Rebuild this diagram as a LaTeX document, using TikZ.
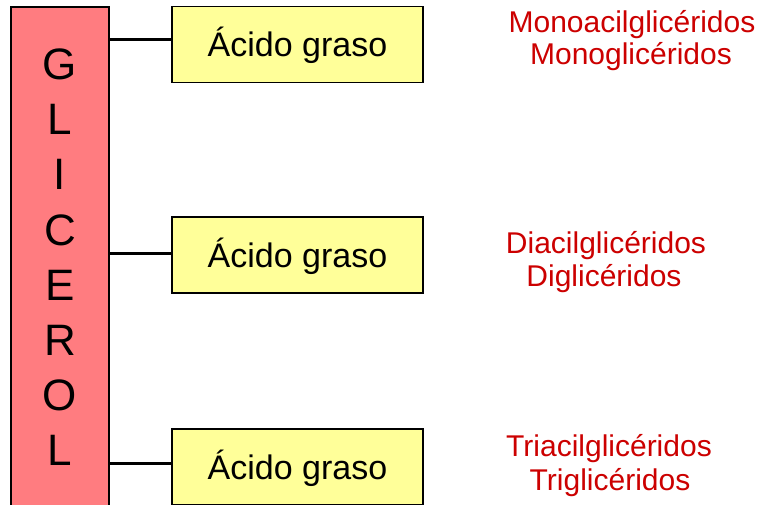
\documentclass[tikz,border=0pt]{standalone}
\usepackage{fontspec}
\setmainfont{Liberation Sans}
\definecolor{glyc}{HTML}{FF7C80}
\definecolor{acid}{HTML}{FFFF99}
\definecolor{lab}{HTML}{CC0000}
\tikzset{
  x=1pt,y=1pt,
  glycbox/.style={draw=black, line width=1.5pt, fill=glyc, minimum width=98pt, minimum height=504pt, inner sep=0pt},
  letter/.style={anchor=base, font=\fontsize{44}{44}\selectfont, inner sep=0pt},
  acidbox/.style={draw=black, line width=1.5pt, fill=acid, minimum width=251pt, minimum height=76pt, inner sep=0pt,
    font=\fontsize{34}{34}\selectfont, text height=24pt, text depth=0pt},
  conn/.style={line width=3pt},
  redtext/.style={anchor=base, text=lab, font=\fontsize{30}{30}\selectfont, inner sep=0pt}
}
\begin{document}
\begin{tikzpicture}
\useasboundingbox (0,0) rectangle (762,504);
\fill[white] (0,0) rectangle (762,504);
\node[glycbox] (glicerol) at (60,245) {};
\foreach \ch [count=\i] in {G,L,I,C,E,R,O,L} {
  \node[letter] (g\i) at (60,{504-80-55*(\i-1)}) {\ch};
}
\node[acidbox] (a1) at (297.5,459.5) {Ácido graso};
\node[acidbox] (a2) at (297.5,249) {Ácido graso};
\node[acidbox] (a3) at (297.5,37) {Ácido graso};
\draw[conn] ([yshift=4.5pt]a1.west) -- ([yshift=4.5pt]a1.west -| glicerol.east);
\draw[conn] ([yshift=2pt]a2.west) -- ([yshift=2pt]a2.west -| glicerol.east);
\draw[conn] ([yshift=4pt]a3.west) -- ([yshift=4pt]a3.west -| glicerol.east);
\node[redtext] (m1) at (632,471) {Monoacilglicéridos};
\node[redtext] (m2) at (631,439) {Monoglicéridos};
\node[redtext] (d1) at (606,251) {Diacilglicéridos};
\node[redtext] (d2) at (604,218) {Diglicéridos};
\node[redtext] (t1) at (609,48) {Triacilglicéridos};
\node[redtext] (t2) at (610,14) {Triglicéridos};
\end{tikzpicture}
\end{document}
